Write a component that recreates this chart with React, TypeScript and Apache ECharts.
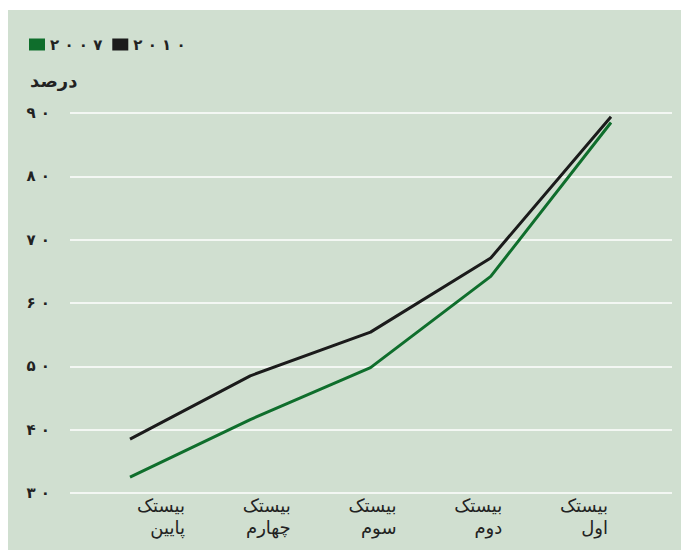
import React, { useEffect, useRef } from "react";
import * as echarts from "echarts";

const categories = ["بیستک\nپایین", "بیستک\nچهارم", "بیستک\nسوم", "بیستک\nدوم", "بیستک\nاول"];
const series2007 = [32.5, 41.6, 49.8, 64.2, 88.5];
const series2010 = [38.5, 48.5, 55.4, 67.1, 89.4];
const seriesNames = ["۲۰۰۷", "۲۰۱۰"];
const yTitle = "درصد";
const yMin = 30;
const yMax = 90;
const yStep = 10;

const toPersian = (v: number | string) =>
  String(v).replace(/[0-9]/g, (d) => "۰۱۲۳۴۵۶۷۸۹"[Number(d)]);
const spaced = (s: string) => s.split("").join(" ");

const FONT = "DejaVu Sans";

export default function App() {
  const ref = useRef<HTMLDivElement>(null);
  useEffect(() => {
    if (!ref.current) return;
    const chart = echarts.init(ref.current, null, { renderer: "svg" });
    const top = 113;
    const bottom = 57;
    chart.setOption({
      animation: false,
      backgroundColor: "#ffffff",
      textStyle: { fontFamily: FONT },
      graphic: [
        {
          type: "rect",
          z: -10,
          silent: true,
          shape: { x: 8, y: 10, width: 673, height: 540 },
          style: { fill: "#d0dfd0" },
        },
        {
          type: "text",
          x: 30,
          y: 80,
          style: {
            text: yTitle,
            fill: "#222",
            font: `bold 18px "${FONT}"`,
            textVerticalAlign: "middle",
          },
        },
      ],
      legend: {
        left: 24,
        top: 32,
        padding: 5,
        itemWidth: 16,
        itemHeight: 12,
        itemGap: 10,
        icon: "rect",
        data: seriesNames,
        formatter: (name: string) => spaced(name),
        textStyle: { fontFamily: FONT, fontSize: 15, fontWeight: "bold", color: "#222" },
      },
      grid: [
        { left: 130, right: 70, top, bottom },
        { left: 70, right: 9, top, bottom },
        { left: 185, right: 73, top, bottom },
      ],
      xAxis: [
        {
          type: "category",
          gridIndex: 0,
          data: categories,
          boundaryGap: false,
          axisLine: { show: false },
          axisTick: { show: false },
          axisLabel: { show: false },
        },
        {
          type: "category",
          gridIndex: 1,
          data: categories,
          show: false,
        },
        {
          type: "category",
          gridIndex: 2,
          data: categories,
          boundaryGap: false,
          axisLine: { show: false },
          axisTick: { show: false },
          axisLabel: {
            align: "right",
            margin: 1,
            fontFamily: FONT,
            fontSize: 18,
            lineHeight: 22,
            color: "#222",
            interval: 0,
          },
        },
      ],
      yAxis: [
        { type: "value", gridIndex: 0, min: yMin, max: yMax, interval: yStep, show: false },
        {
          type: "value",
          gridIndex: 1,
          min: yMin,
          max: yMax,
          interval: yStep,
          axisLine: { show: false },
          axisTick: { show: false },
          splitLine: { lineStyle: { color: "#ffffff", width: 1.5 } },
          axisLabel: {
            margin: 20,
            fontFamily: FONT,
            fontSize: 15,
            fontWeight: "bold",
            color: "#222",
            formatter: (v: number) => spaced(toPersian(v)),
          },
        },
        { type: "value", gridIndex: 2, min: yMin, max: yMax, show: false },
      ],
      series: [
        {
          name: seriesNames[0],
          type: "line",
          xAxisIndex: 0,
          yAxisIndex: 0,
          data: series2007,
          symbol: "none",
          color: "#0f6e2c",
          lineStyle: { width: 3, color: "#0f6e2c" },
          z: 3,
        },
        {
          name: seriesNames[1],
          type: "line",
          xAxisIndex: 0,
          yAxisIndex: 0,
          data: series2010,
          symbol: "none",
          color: "#1b1b1b",
          lineStyle: { width: 3, color: "#1b1b1b" },
          z: 4,
        },
      ],
    });
    return () => chart.dispose();
  }, []);
  return (
    <div
      ref={ref}
      style={{ position: "fixed", left: 0, top: 0, width: 681, height: 550 }}
    />
  );
}
